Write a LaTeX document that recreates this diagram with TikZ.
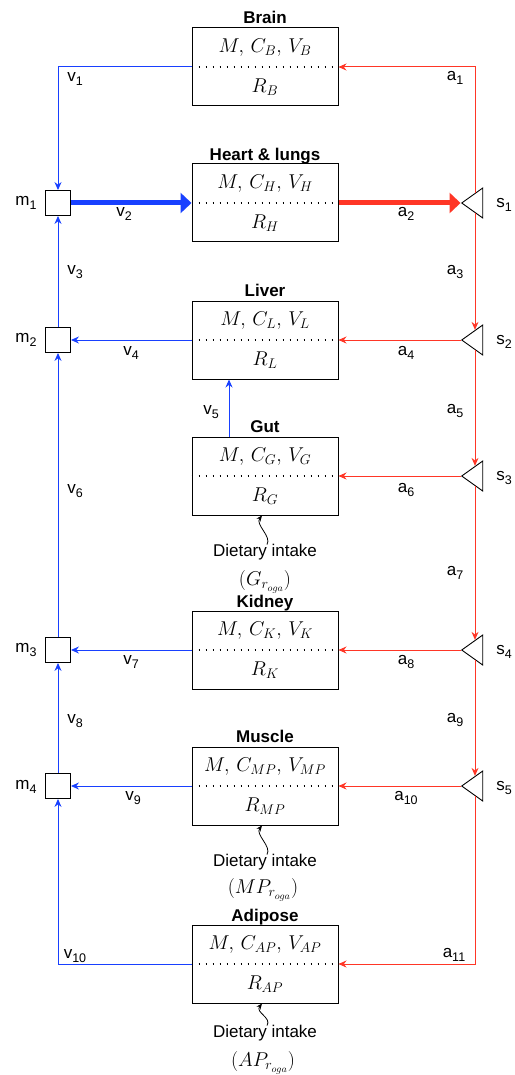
\RequirePackage{fix-cm}
\documentclass[tikz,border=0pt]{standalone}
\usepackage{fontspec}
\setmainfont{Liberation Sans}
\usetikzlibrary{arrows.meta,positioning,shapes.geometric,calc}
\definecolor{vein}{HTML}{1840FF}
\definecolor{artery}{HTML}{FF3626}
\newcommand\lsub[1]{\raisebox{-3.5pt}{\fontsize{12.5}{14}\selectfont#1}}

\begin{document}
\begin{tikzpicture}[x=1pt,y=-1pt,
   font=\fontsize{17}{20}\selectfont,
   organ/.style={draw,line width=1pt,minimum width=146pt,minimum height=78pt,inner sep=0pt},
   ttl/.style={font=\fontsize{17}{20}\selectfont\bfseries,inner sep=0pt,anchor=base},
   qty/.style={font=\fontsize{20}{24}\selectfont,inner sep=0pt},
   mix/.style={draw,line width=0.9pt,minimum size=25pt,inner sep=0pt},
   spl/.style={draw,line width=0.9pt,isosceles triangle,isosceles triangle stretches,
               shape border rotate=180,minimum width=30pt,minimum height=21pt,inner sep=0pt},
   lbl/.style={inner sep=0pt},
   vn/.style={vein,line width=1pt,-{Stealth[length=8pt,width=7pt]}},
   ar/.style={artery,line width=1pt,-{Stealth[length=8pt,width=7pt]}},
   big/.style={line width=5pt,-{Triangle[length=11pt,width=20pt]}},
   mid/.style={line width=1.4pt,dash pattern=on 1.4pt off 5.6pt},
   intake/.style={line width=0.8pt,-{Stealth[length=6pt,width=5pt]}}]
  \useasboundingbox (0,0) rectangle (514,1075);

  % organs
  \node[organ] (brain)   at (265,67)  {};
  \node[organ] (heart)   at (265,203) {};
  \node[organ] (liver)   at (265,340) {};
  \node[organ] (gut)     at (265,476) {};
  \node[organ] (kidney)  at (265,650) {};
  \node[organ] (muscle)  at (265,786) {};
  \node[organ] (adipose) at (265,964) {};

  \node[ttl] (t-brain)   at ([yshift=4pt]brain.north)   {Brain};
  \node[ttl] (t-heart)   at ([yshift=3pt]heart.north)   {Heart \& lungs};
  \node[ttl] (t-liver)   at ([yshift=4pt]liver.north)   {Liver};
  \node[ttl] (t-gut)     at ([yshift=4pt]gut.north)     {Gut};
  \node[ttl] (t-kidney)  at ([yshift=3pt]kidney.north)  {Kidney};
  \node[ttl] (t-muscle)  at ([yshift=4pt]muscle.north)  {Muscle};
  \node[ttl] (t-adipose) at ([yshift=3pt]adipose.north) {Adipose};

  \foreach \o/\s in {brain/B,heart/H,liver/L,gut/G,kidney/K,muscle/MP,adipose/AP} {
    \draw[mid] (\o.west) -- (\o.east);
    \node[qty] (\o-top) at ($(\o)+(0,-19)$) {$M,\mkern3mu C_{\s},\mkern3mu V_{\s}$};
    \node[qty] (\o-bot) at ($(\o)+(0,20)$)  {$R_{\s}$};
  }

  % mixing and splitting points
  \node[mix] (m1) at (58,203) {};
  \node[mix] (m2) at (58,340) {};
  \node[mix] (m3) at (58,650) {};
  \node[mix] (m4) at (58,786) {};
  \node[spl] (s1) at (475,203) {};
  \node[spl] (s2) at (475,340) {};
  \node[spl] (s3) at (475,476) {};
  \node[spl] (s4) at (475,650) {};
  \node[spl] (s5) at (475,786) {};

  % dietary intake
  \node (di-gut)     at (265,552)  {Dietary intake};
  \node[qty] (ro-gut)     at (265,582)  {$(G_{r_{oga}})$};
  \node (di-muscle)  at (265,862)  {Dietary intake};
  \node[qty] (ro-muscle)  at (263,890)  {$(MP_{r_{oga}})$};
  \node (di-adipose) at (265,1033) {Dietary intake};
  \node[qty] (ro-adipose) at (263,1063) {$(AP_{r_{oga}})$};
  \foreach \o in {gut,muscle,adipose}
    \draw[intake] ([xshift=2pt,yshift=-4pt]di-\o.north) .. controls +(5,-8) and +(-7,9) .. ([xshift=-3pt]\o.south);

  % veins
  \draw[vn] (brain) -| (m1);
  \draw[vn,big] (m1) -- (heart);
  \draw[vn] (m2) -- (m1);
  \draw[vn] (liver) -- (m2);
  \draw[vn] ([xshift=-36pt]gut.north) -- ([xshift=-36pt]liver.south);
  \draw[vn] (m3) -- (m2);
  \draw[vn] (kidney) -- (m3);
  \draw[vn] (m4) -- (m3);
  \draw[vn] (muscle) -- (m4);
  \draw[vn] (adipose) -| (m4);

  % arteries
  \draw[ar,big] (heart) -- (s1.apex);
  \draw[ar] (s1) |- (brain);
  \draw[ar] (s1) -- (s2);
  \draw[ar] (s2) -- (liver);
  \draw[ar] (s2) -- (s3);
  \draw[ar] (s3) -- (gut);
  \draw[ar] (s3) -- (s4);
  \draw[ar] (s4) -- (kidney);
  \draw[ar] (s4) -- (s5);
  \draw[ar] (s5) -- (muscle);
  \draw[ar] (s5) |- (adipose);

  % flow labels
  \node[lbl] (l-v1)  at (75,79)   {v\lsub{1}};
  \node[lbl] (l-v2)  at (124,214) {v\lsub{2}};
  \node[lbl] (l-v3)  at (75,272)  {v\lsub{3}};
  \node[lbl] (l-v4)  at (131,353) {v\lsub{4}};
  \node[lbl] (l-v5)  at (211,412) {v\lsub{5}};
  \node[lbl] (l-v6)  at (75,491)  {v\lsub{6}};
  \node[lbl] (l-v7)  at (131,662) {v\lsub{7}};
  \node[lbl] (l-v8)  at (75,721)  {v\lsub{8}};
  \node[lbl] (l-v9)  at (133,798) {v\lsub{9}};
  \node[lbl] (l-v10) at (75,956)  {v\lsub{10}};
  \node[lbl] (l-a1)  at (455,78)  {a\lsub{1}};
  \node[lbl] (l-a2)  at (406,214) {a\lsub{2}};
  \node[lbl] (l-a3)  at (455,272) {a\lsub{3}};
  \node[lbl] (l-a4)  at (406,353) {a\lsub{4}};
  \node[lbl] (l-a5)  at (455,411) {a\lsub{5}};
  \node[lbl] (l-a6)  at (406,490) {a\lsub{6}};
  \node[lbl] (l-a7)  at (455,573) {a\lsub{7}};
  \node[lbl] (l-a8)  at (406,662) {a\lsub{8}};
  \node[lbl] (l-a9)  at (455,720) {a\lsub{9}};
  \node[lbl] (l-a10) at (406,798) {a\lsub{10}};
  \node[lbl] (l-a11) at (454,955) {a\lsub{11}};
  \node[lbl] (l-m1)  at (26,203)  {m\lsub{1}};
  \node[lbl] (l-m2)  at (26,340)  {m\lsub{2}};
  \node[lbl] (l-m3)  at (26,650)  {m\lsub{3}};
  \node[lbl] (l-m4)  at (26,787)  {m\lsub{4}};
  \node[lbl] (l-s1)  at (504,205) {s\lsub{1}};
  \node[lbl] (l-s2)  at (504,342) {s\lsub{2}};
  \node[lbl] (l-s3)  at (504,478) {s\lsub{3}};
  \node[lbl] (l-s4)  at (504,652) {s\lsub{4}};
  \node[lbl] (l-s5)  at (504,788) {s\lsub{5}};
\end{tikzpicture}
\end{document}
